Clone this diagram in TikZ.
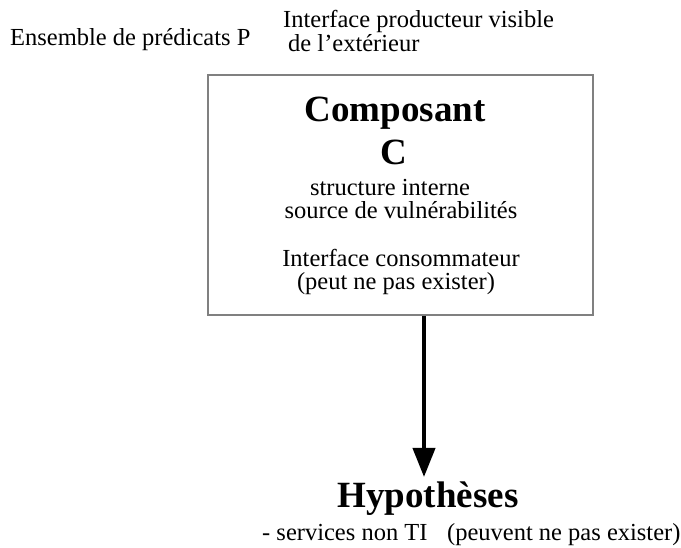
\documentclass[tikz,border=0pt]{standalone}
\usepackage{fontspec}
\setmainfont{Liberation Serif}
\usetikzlibrary{arrows.meta}
\begin{document}
\begin{tikzpicture}[x=1pt,y=-1pt,
  txt/.style={inner sep=0pt,font=\fontsize{24.5}{28}\selectfont},
  titre/.style={inner sep=0pt,font=\fontsize{37}{43}\selectfont\bfseries},
  fleche/.style={line width=4pt,-{Triangle[width=22pt,length=29pt]}}]
\useasboundingbox (0,0) rectangle (681,548);
% Textes du haut
\node[txt,anchor=base west] (predicats) at (10,46) {Ensemble de prédicats P};
\node[txt,anchor=base west] (prod) at (283,28) {Interface producteur visible};
\node[txt,anchor=base west] (ext) at (288,52) {de l’extérieur};
% Composant
\node[draw=gray,line width=2pt,minimum width=385pt,minimum height=240pt,inner sep=0pt] (comp) at (400.5,195) {};
\node[titre,anchor=base] (nom) at (395,122) {Composant};
\node[titre,anchor=base] (lettre) at (394,165) {C};
\node[txt,anchor=base] (struct) at (390,196) {structure interne};
\node[txt,anchor=base] (source) at (401,219) {source de vulnérabilités};
\node[txt,anchor=base] (conso) at (401,267) {Interface consommateur};
\node[txt,anchor=base] (peut) at (396,290) {(peut ne pas exister)};
% Hypothèses
\coordinate (pointe) at (424,477);
\draw[fleche] (comp.south -| pointe) -- (pointe);
\node[titre,anchor=base] (hyp) at (428,507) {Hypothèses};
\node[txt,anchor=base west] (services) at (262,540) {- services non TI\hspace*{0.8em}(peuvent ne pas exister)};
\end{tikzpicture}
\end{document}
